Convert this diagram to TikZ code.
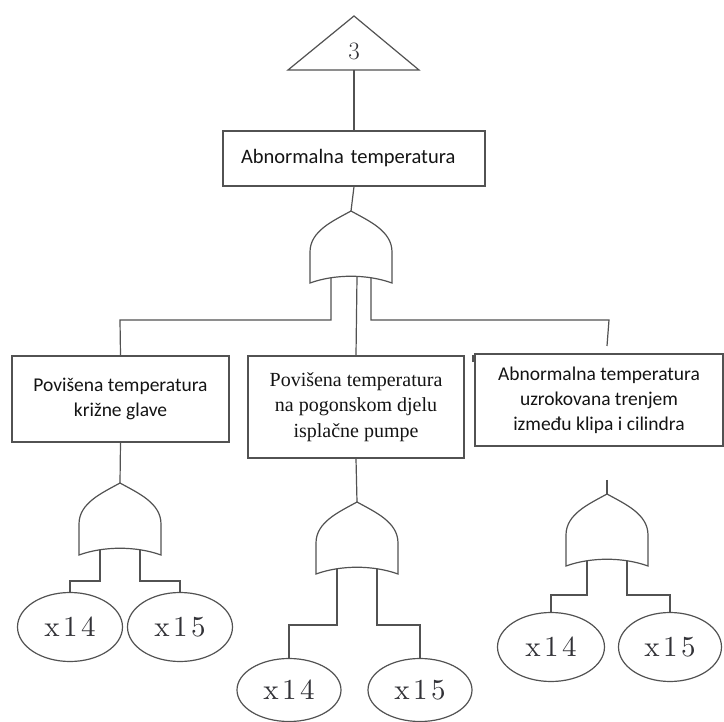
\documentclass[tikz,border=0pt]{standalone}
\usepackage{fontspec}
\usetikzlibrary{shapes.geometric}
\newfontfamily\carl{Carlito}
\newfontfamily\tnr{Liberation Serif}
\newfontfamily\lmx{lmroman10-regular.otf}[LetterSpace=12]
\definecolor{linec}{RGB}{82,82,82}
\definecolor{txtc}{RGB}{20,20,20}
\definecolor{symc}{RGB}{50,50,55}
\pgfdeclarelayer{background}
\pgfsetlayers{background,main}
\tikzset{
  conn/.style={draw=linec, line width=1.2pt},
  box/.style={draw=linec, line width=1.2pt, fill=white, inner sep=0pt, align=center, text=txtc},
  sanstxt/.style={font=\carl\fontsize{19.5}{25}\selectfont},
  seriftxt/.style={font=\tnr\fontsize{20}{25.5}\selectfont},
  evt/.style={ellipse, draw=linec, line width=1.2pt, fill=white, inner sep=0pt,
     minimum width=105pt, minimum height=69pt, text=symc,
     font=\lmx\fontsize{29}{30}\selectfont},
  gateline/.style={draw=linec, line width=1.2pt, fill=white},
  orgate/.pic={
    \path[gateline] (0,0) .. controls (-18,10) and (-41,20) .. (-41,41) -- (-41,72)
      .. controls (-16,63) and (16,63) .. (41,72) -- (41,41)
      .. controls (41,20) and (18,10) .. (0,0) -- cycle;
    \coordinate (-top) at (0,0);
    \coordinate (-l) at (-20,66);
    \coordinate (-r) at (20,66);
    \coordinate (-m) at (6,66);
  }
}
\begin{document}
\begin{tikzpicture}[x=1pt,y=-1pt]
\useasboundingbox (0,0) rectangle (724,722);

% transfer triangle
\path[gateline] (354,16) -- (419,70) -- (288,70) -- cycle;
\node[text=symc, font=\fontsize{25}{26}\selectfont] (t3) at (354,51) {3};
\coordinate (tribase) at (354,70);

% top event
\node[box, font=\carl\fontsize{20.5}{25}\selectfont, minimum width=262pt, minimum height=55pt,
      text width=226pt, align=left, inner xsep=18pt] (tb) at (354,158.5) {Abnormalna temperatura};

% intermediate events
\node[box, sanstxt, minimum width=217pt, minimum height=86pt] (lb) at (120.5,399)
  {Povišena temperatura\\križne glave};
\node[box, seriftxt, minimum width=216pt, minimum height=102pt] (mb) at (356,407)
  {Povišena temperatura\\na pogonskom djelu\\isplačne pumpe};
\node[box, sanstxt, minimum width=248pt, minimum height=92pt] (rb) at (599,400)
  {Abnormalna temperatura\\uzrokovana trenjem\\između klipa i cilindra};

% gates
\pic (g0) at (351,211) {orgate};
\pic (g1) at (120,483) {orgate};
\pic (g2) at (357,502) {orgate};
\pic (g3) at (607,494) {orgate};

% basic events
\node[evt] (e1a) at (70,627) {x14};
\node[evt] (e1b) at (180,627) {x15};
\node[evt, minimum width=104pt, minimum height=63pt] (e2a) at (289,690) {x14};
\node[evt, minimum width=104pt, minimum height=63pt] (e2b) at (420,690) {x15};
\node[evt, minimum width=107pt] (e3a) at (551,647) {x14};
\node[evt, minimum width=103pt] (e3b) at (670,647) {x15};

% free ends
\coordinate (jl) at (120,320);
\coordinate (jr) at (609,320);
\coordinate (jr2) at (607,346);
\coordinate (r3) at (607,480);

\begin{pgfonlayer}{background}
\draw[conn] (tribase) -- (tb.north);
\draw[conn] (tb.south) -- (g0-top);
\draw[conn] (g0-l) |- (jl) -- (lb.north);
\draw[conn] (g0-m) -- (mb.north);
\draw[conn] (g0-r) |- (jr) -- (jr2);

\draw[conn] (lb.south) -- (g1-top);
\draw[conn] (g1-l) |- ([yshift=11pt]e1a.north) -- (e1a.north);
\draw[conn] (g1-r) |- ([yshift=11pt]e1b.north) -- (e1b.north);

\draw[conn] (mb.south) -- (g2-top);
\draw[conn] (g2-l) |- ([yshift=33pt]e2a.north) -- (e2a.north);
\draw[conn] (g2-r) |- ([yshift=33pt]e2b.north) -- (e2b.north);

\draw[conn] (r3) -- (g3-top);
\draw[conn] (g3-l) |- ([yshift=17pt]e3a.north) -- (e3a.north);
\draw[conn] (g3-r) |- ([yshift=17pt]e3b.north) -- (e3b.north);
\end{pgfonlayer}

% small tick at the corner of the right box
\draw[draw=linec, line width=1.2pt] (473,355) -- (473,362);
\end{tikzpicture}
\end{document}
